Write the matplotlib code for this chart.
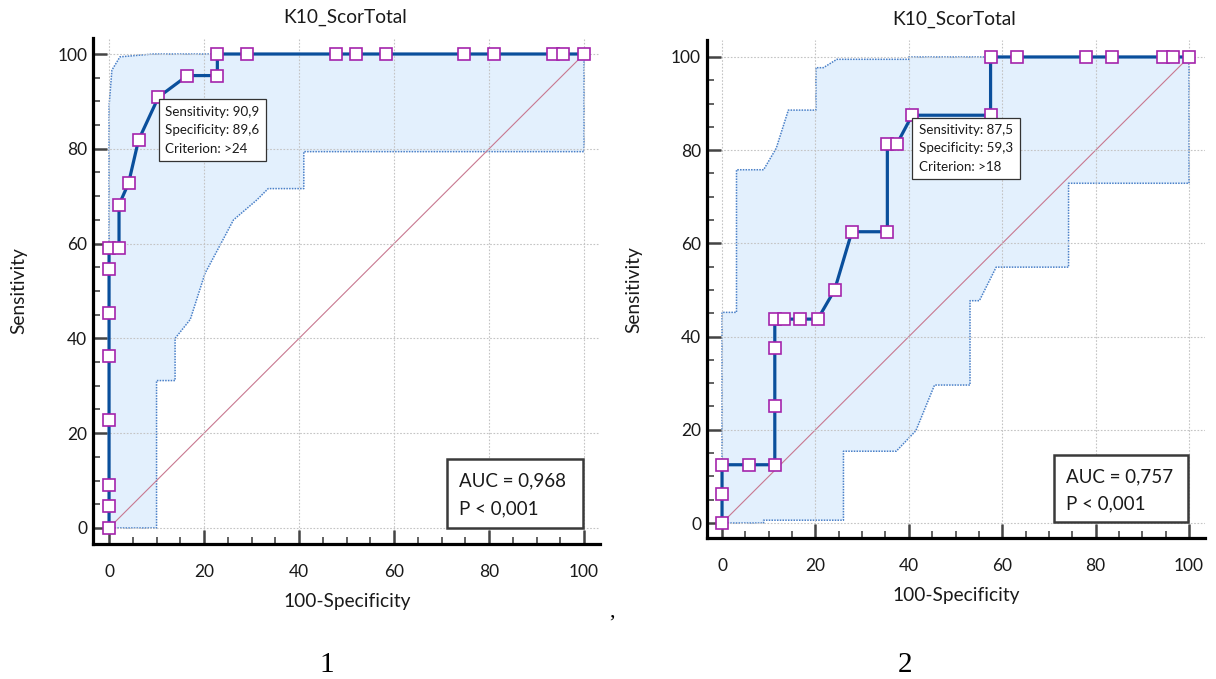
import matplotlib
matplotlib.use("Agg")
import matplotlib.pyplot as plt
from matplotlib.patches import Rectangle

plt.rcParams['font.family'] = ['Lato', 'DejaVu Sans']

# ---------------- data ----------------
title = "K10_ScorTotal"
xlabel = "100-Specificity"
ylabel = "Sensitivity"
ticks = [0, 20, 40, 60, 80, 100]

# Chart 1
roc1_x = [0, 0, 0, 0, 0, 0, 0, 0, 2.1, 2.1, 4.1, 6.2, 10.4, 16.5, 22.8, 22.8,
          29.0, 47.8, 51.9, 58.2, 74.8, 81.1, 93.5, 95.6, 100]
roc1_y = [0, 4.55, 9.09, 22.73, 36.36, 45.45, 54.55, 59.09, 59.09, 68.18, 72.73,
          81.82, 90.91, 95.45, 95.45, 100, 100, 100, 100, 100, 100, 100, 100, 100, 100]
ci1_up_x = [0, 0, 0.6, 2.3, 9.3, 100]
ci1_up_y = [0, 89, 96.6, 99.4, 100, 100]
ci1_lo_x = [0, 10.0, 10.0, 13.9, 13.9, 17.1, 20.2, 26.2, 31.1, 33.5, 41.0, 41.0, 100, 100]
ci1_lo_y = [0, 0, 31.1, 31.1, 40.0, 44.0, 53.7, 65.0, 69.2, 71.6, 71.6, 79.4, 79.4, 100]
sens1, spec1, crit1 = "90,9", "89,6", ">24"
auc1, p1 = "0,968", "0,001"

# Chart 2
roc2_x = [0, 0, 0, 5.7, 11.3, 11.3, 11.3, 11.3, 13.2, 16.7, 20.5, 24.1, 27.8, 35.4,
          35.4, 37.4, 40.7, 57.5, 57.5, 63.1, 77.9, 83.5, 94.5, 96.5, 100]
roc2_y = [0, 6.25, 12.5, 12.5, 12.5, 25, 37.5, 43.75, 43.75, 43.75, 43.75, 50, 62.5,
          62.5, 81.25, 81.25, 87.5, 87.5, 100, 100, 100, 100, 100, 100, 100]
ci2_up_x = [0, 0, 3.1, 3.1, 8.9, 11.6, 14.2, 20.1, 20.1, 21.7, 24.6, 40.0, 40.0, 100]
ci2_up_y = [0, 45.2, 45.2, 75.8, 75.8, 80.4, 88.6, 88.6, 97.7, 97.7, 99.5, 99.5, 100, 100]
ci2_lo_x = [0, 8.9, 8.9, 26.0, 26.0, 37.3, 41.5, 45.5, 53.1, 53.1, 55.1, 58.7, 74.2,
            74.2, 100, 100]
ci2_lo_y = [0, 0, 0.6, 0.6, 15.4, 15.4, 19.8, 29.6, 29.6, 47.7, 47.7, 54.9, 54.9,
            72.9, 72.9, 100]
sens2, spec2, crit2 = "87,5", "59,3", ">18"
auc2, p2 = "0,757", "0,001"

# ---------------- style ----------------
ROC_C = '#0a4f9c'
MK_EDGE = '#a424ac'
FILL_C = '#e3f0fd'
CI_C = '#4a80c8'
DIAG_C = '#c87890'
GRID_C = '#c4c4c4'
TXT_C = '#1a1a1a'

W, H = 1216, 679
fig = plt.figure(figsize=(W / 100, H / 100), dpi=100)

ax1 = fig.add_axes([0.0764, 0.1987, 0.4172, 0.7455])
ax2 = fig.add_axes([0.5811, 0.2071, 0.4098, 0.7337])


def draw(ax, rx, ry, ux, uy, lx, ly, sens, spec, crit, auc, p, xlim, ylim):
    # confidence band
    px = list(ux) + list(lx)[::-1]
    py = list(uy) + list(ly)[::-1]
    ax.fill(px, py, color=FILL_C, zorder=0.8, lw=0)
    ax.plot(ux, uy, color=CI_C, lw=1.1, ls=(0, (1, 0.8)), zorder=1.2)
    ax.plot(lx, ly, color=CI_C, lw=1.1, ls=(0, (1, 0.8)), zorder=1.2)
    # diagonal
    ax.plot([0, 100], [0, 100], color=DIAG_C, lw=0.8, zorder=1.3)
    # ROC curve
    ax.plot(rx, ry, color=ROC_C, lw=2.3, zorder=3,
            marker='s', ms=8.2, mfc='white', mec=MK_EDGE, mew=1.2)

    ax.set_xlim(*xlim)
    ax.set_ylim(*ylim)
    ax.set_xticks(ticks)
    ax.set_yticks(ticks)
    ax.set_xticks(range(0, 101, 5), minor=True)
    ax.set_yticks(range(0, 101, 5), minor=True)
    ax.grid(True, which='major', color=GRID_C, lw=0.8, ls=(0, (1.5, 1.5)))
    ax.set_axisbelow('line')
    for s in ['top', 'right']:
        ax.spines[s].set_visible(False)
    for s in ['left', 'bottom']:
        ax.spines[s].set_linewidth(2.3)
        ax.spines[s].set_color('black')
    ax.tick_params(which='major', direction='in', length=10, width=1.8,
                   color='#444444', labelsize=12.5, labelcolor=TXT_C)
    ax.tick_params(which='minor', direction='in', length=5, width=1.3,
                   color='#555555')
    ax.tick_params(axis='x', which='major', pad=14)
    ax.tick_params(axis='y', which='major', pad=4)

    # title and labels
    ax.text(0.497, 1.041, title, transform=ax.transAxes, ha='center',
            va='center', fontsize=13.8, color=TXT_C)
    ax.set_xlabel(xlabel, fontsize=13.8, color=TXT_C)
    ax.xaxis.set_label_coords(0.501, -0.114)
    ax.xaxis.label.set_va('center')
    ax.set_ylabel(ylabel, fontsize=13.8, color=TXT_C)
    ax.yaxis.set_label_coords(-0.146, 0.50)
    ax.yaxis.label.set_va('center')

    # criterion annotation
    pt_x = 100 - float(spec.replace(',', '.'))
    pt_y = float(sens.replace(',', '.'))
    ax.annotate(f"Sensitivity: {sens}\nSpecificity: {spec}\nCriterion: {crit}",
                xy=(pt_x, pt_y), xytext=(5.0, -6.5), textcoords='offset points',
                ha='left', va='top', fontsize=9.6, color=TXT_C, linespacing=1.62,
                zorder=5,
                bbox=dict(boxstyle='square,pad=0.5', fc='white', ec='#333333',
                          lw=0.9))

    # AUC box
    ax.add_patch(Rectangle((0.698, 0.032), 0.268, 0.136, transform=ax.transAxes,
                           fc='white', ec='#3a3a3a', lw=1.8, zorder=5))
    ax.text(0.722, 0.124, f"AUC = {auc}", transform=ax.transAxes, fontsize=13.5,
            va='center', ha='left', color=TXT_C, zorder=6)
    ax.text(0.722, 0.069, f"P < {p}", transform=ax.transAxes, fontsize=13.5,
            va='center', ha='left', color=TXT_C, zorder=6)


draw(ax1, roc1_x, roc1_y, ci1_up_x, ci1_up_y, ci1_lo_x, ci1_lo_y,
     sens1, spec1, crit1, auc1, p1, (-3.4, 103.4), (-3.4, 103.4))
draw(ax2, roc2_x, roc2_y, ci2_up_x, ci2_up_y, ci2_lo_x, ci2_lo_y,
     sens2, spec2, crit2, auc2, p2, (-3.3, 103.4), (-3.3, 103.6))

# separators / panel numbers
fig.text(612 / W, 1 - 612 / H, ",", family='Liberation Serif', fontsize=16,
         ha='center', va='center', color='black')
fig.text(327 / W, 1 - 665 / H, "1", family='Liberation Serif', fontsize=21,
         ha='center', va='center', color='black')
fig.text(905 / W, 1 - 665 / H, "2", family='Liberation Serif', fontsize=21,
         ha='center', va='center', color='black')

fig.savefig("out.png", dpi=100)
